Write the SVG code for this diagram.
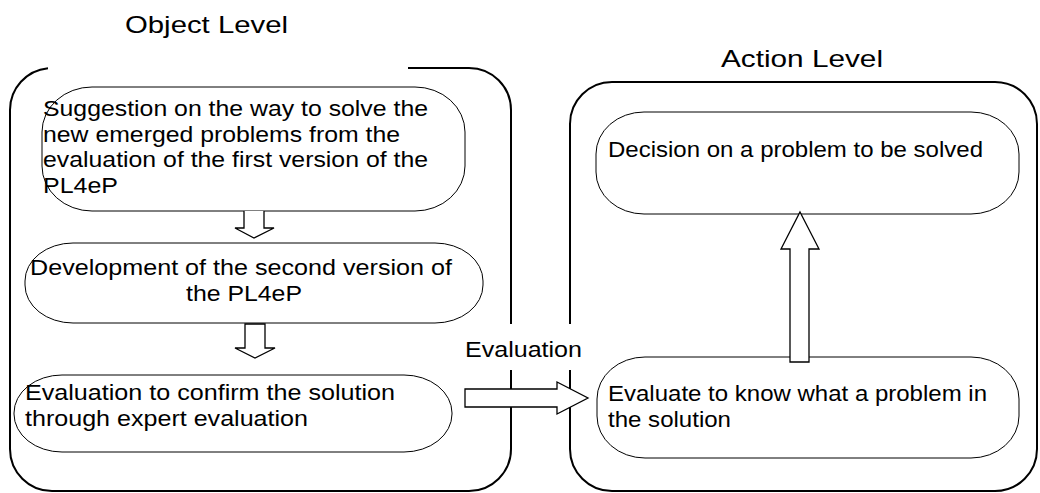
<svg xmlns="http://www.w3.org/2000/svg" width="1040" height="493" viewBox="0 0 1040 493">
<style>
.frame{fill:none;stroke:#000;stroke-width:2}
.box{fill:#fff;stroke:#000;stroke-width:1}
.arr{fill:#fff;stroke:#000;stroke-width:1.3;stroke-linejoin:miter}
text{font-family:"Liberation Sans",Arial,sans-serif;fill:#000}
.t{font-size:22px}
.h{font-size:24px}
</style>
<rect width="1040" height="493" fill="#fff"/>
<g id="object-level">
<path class="frame" d="M10,110 A42,42 0 0 1 48,68.2 M408,68 H469 A42,42 0 0 1 511,110 V324 M511,370 V449 A42,42 0 0 1 469,491 H52 A42,42 0 0 1 10,449 V110"/>
<text class="h" x="125" y="33" textLength="163" lengthAdjust="spacingAndGlyphs">Object Level</text>
</g>
<g id="action-level">
<path class="frame" d="M570,324 V124 A42,42 0 0 1 612,82 H995 A42,42 0 0 1 1037,124 V449 A42,42 0 0 1 995,491 H612 A42,42 0 0 1 570,449 V370"/>
<text class="h" x="721" y="67" textLength="162" lengthAdjust="spacingAndGlyphs">Action Level</text>
</g>
<g id="n-suggestion">
<rect class="box" x="42" y="87" width="423" height="124" rx="50" ry="45"/>
<text class="t" x="43" y="116" textLength="385" lengthAdjust="spacingAndGlyphs">Suggestion on the way to solve the</text>
<text class="t" x="43" y="142" textLength="357" lengthAdjust="spacingAndGlyphs">new emerged problems from the</text>
<text class="t" x="43" y="167" textLength="385" lengthAdjust="spacingAndGlyphs">evaluation of the first version of the</text>
<text class="t" x="43" y="193" textLength="75" lengthAdjust="spacingAndGlyphs">PL4eP</text>
</g>
<g id="n-development">
<rect class="box" x="25" y="243" width="458" height="80" rx="48" ry="38"/>
<text class="t" x="241" y="275" text-anchor="middle" textLength="422" lengthAdjust="spacingAndGlyphs">Development of the second version of</text>
<text class="t" x="244" y="301" text-anchor="middle" textLength="116" lengthAdjust="spacingAndGlyphs">the PL4eP</text>
</g>
<g id="n-confirm">
<rect class="box" x="14" y="375" width="438" height="77" rx="48" ry="38"/>
<text class="t" x="25" y="400" textLength="370" lengthAdjust="spacingAndGlyphs">Evaluation to confirm the solution</text>
<text class="t" x="25" y="426" textLength="283" lengthAdjust="spacingAndGlyphs">through expert evaluation</text>
</g>
<g id="n-decision">
<rect class="box" x="596" y="112" width="423" height="102" rx="48" ry="42"/>
<text class="t" x="608" y="157" textLength="375" lengthAdjust="spacingAndGlyphs">Decision on a problem to be solved</text>
</g>
<g id="n-evaluate">
<rect class="box" x="597" y="357" width="422" height="101" rx="48" ry="42"/>
<text class="t" x="608" y="401" textLength="379" lengthAdjust="spacingAndGlyphs">Evaluate to know what a problem in</text>
<text class="t" x="608" y="427" textLength="123" lengthAdjust="spacingAndGlyphs">the solution</text>
</g>
<g id="connectors">
<path class="arr" d="M244,211 V228 H235 L254,238 L274,228 H264 V211"/>
<path class="arr" d="M245,324 V348 H235 L255,358 L275,348 H265 V324 Z"/>
<path class="arr" d="M465,389 H557 V382 L588,398 L557,414 V407 H465 Z"/>
<path class="arr" d="M800,212 L819,249 H809 V362 H790 V249 H781 Z"/>
<text class="t" x="465" y="357" textLength="117" lengthAdjust="spacingAndGlyphs">Evaluation</text>
</g>
</svg>
